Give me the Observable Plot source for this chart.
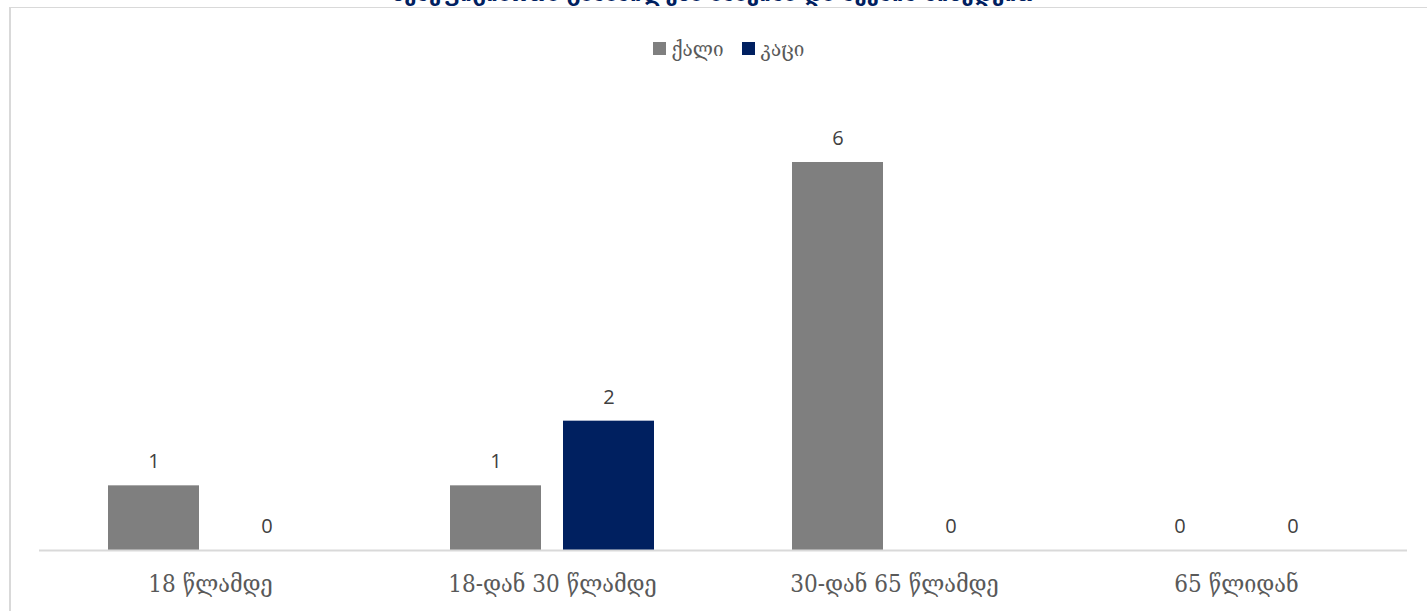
<!DOCTYPE html>
<html>
<head>
<meta charset="utf-8">
<script src="https://cdn.jsdelivr.net/npm/d3@7"></script>
<script src="https://cdn.jsdelivr.net/npm/@observablehq/plot@0.6"></script>
<style>
  html, body { margin: 0; padding: 0; background: #fff; overflow: hidden; }
  #wrap { position: relative; width: 1427px; height: 611px; overflow: hidden; }
  #frame { position: absolute; left: 9px; top: 7px; width: 1430px; height: 620px;
           border-left: 2px solid #d9d9d9; border-top: 1px solid #d9d9d9; box-sizing: border-box; }
  #title { position: absolute; left: 0; width: 1427px; top: -17px; text-align: center;
           font: bold 22px "DejaVu Sans", sans-serif; line-height: 22px; color: #002060; white-space: nowrap; }
  #legend { position: absolute; top: 36px; left: 0; width: 1457px; text-align: center;
            font: 21px "DejaVu Serif Condensed", "DejaVu Serif", serif; color: #595959; }
  #legend span.item { display: inline-flex; align-items: center; margin: 0 9px; }
  #legend span.sw { display: inline-block; width: 13px; height: 13px; margin-right: 6px; }
  #chart { position: absolute; left: 0; top: 0; }
</style>
</head>
<body>
<div id="wrap">
  <div id="title"></div>
  <div id="frame"></div>
  <div id="legend"></div>
  <div id="chart"></div>
</div>
<script>
const titleText = "ბენეფიციართა განაწილება ასაკისა და სქესის მიხედვით";
const categories = ["18 წლამდე", "18-დან 30 წლამდე", "30-დან 65 წლამდე", "65 წლიდან"];
const series = ["ქალი", "კაცი"];
const femaleValues = [1, 1, 6, 0];
const maleValues = [0, 2, 0, 0];
const seriesColors = ["#7f7f7f", "#002060"];

const data = [];
categories.forEach((c, i) => {
  data.push({category: c, sex: series[0], value: femaleValues[i]});
  data.push({category: c, sex: series[1], value: maleValues[i]});
});

document.getElementById("title").textContent = titleText;
const legend = document.getElementById("legend");
series.forEach((s, i) => {
  const item = document.createElement("span");
  item.className = "item";
  const sw = document.createElement("span");
  sw.className = "sw";
  sw.style.background = seriesColors[i];
  item.appendChild(sw);
  item.appendChild(document.createTextNode(s));
  legend.appendChild(item);
});

const chart = Plot.plot({
  width: 1427,
  height: 611,
  marginLeft: 38,
  marginRight: 19,
  marginTop: 162,
  marginBottom: 61,
  style: {background: "transparent", overflow: "visible"},
  fx: {domain: categories, padding: 0, label: null},
  x: {domain: series, paddingInner: 0.193, paddingOuter: 0.6, axis: null},
  y: {domain: [0, 6], axis: null},
  color: {domain: series, range: seriesColors},
  marks: [
    Plot.barY(data, {fx: "category", x: "sex", y: "value", fill: "sex"}),
    Plot.ruleY([0], {stroke: "#d9d9d9", strokeWidth: 2}),
    Plot.text(data, {fx: "category", x: "sex", y: "value", text: d => String(d.value),
      dy: -24, fill: "#404040", fontSize: 20, fontFamily: "Open Sans, sans-serif"}),
    Plot.axisFx({anchor: "bottom", tickSize: 0, tickPadding: 24, label: null,
      fontSize: 24, fontFamily: "DejaVu Serif Condensed, DejaVu Serif, serif", fill: "#595959"})
  ]
});
document.getElementById("chart").appendChild(chart);
</script>
</body>
</html>
